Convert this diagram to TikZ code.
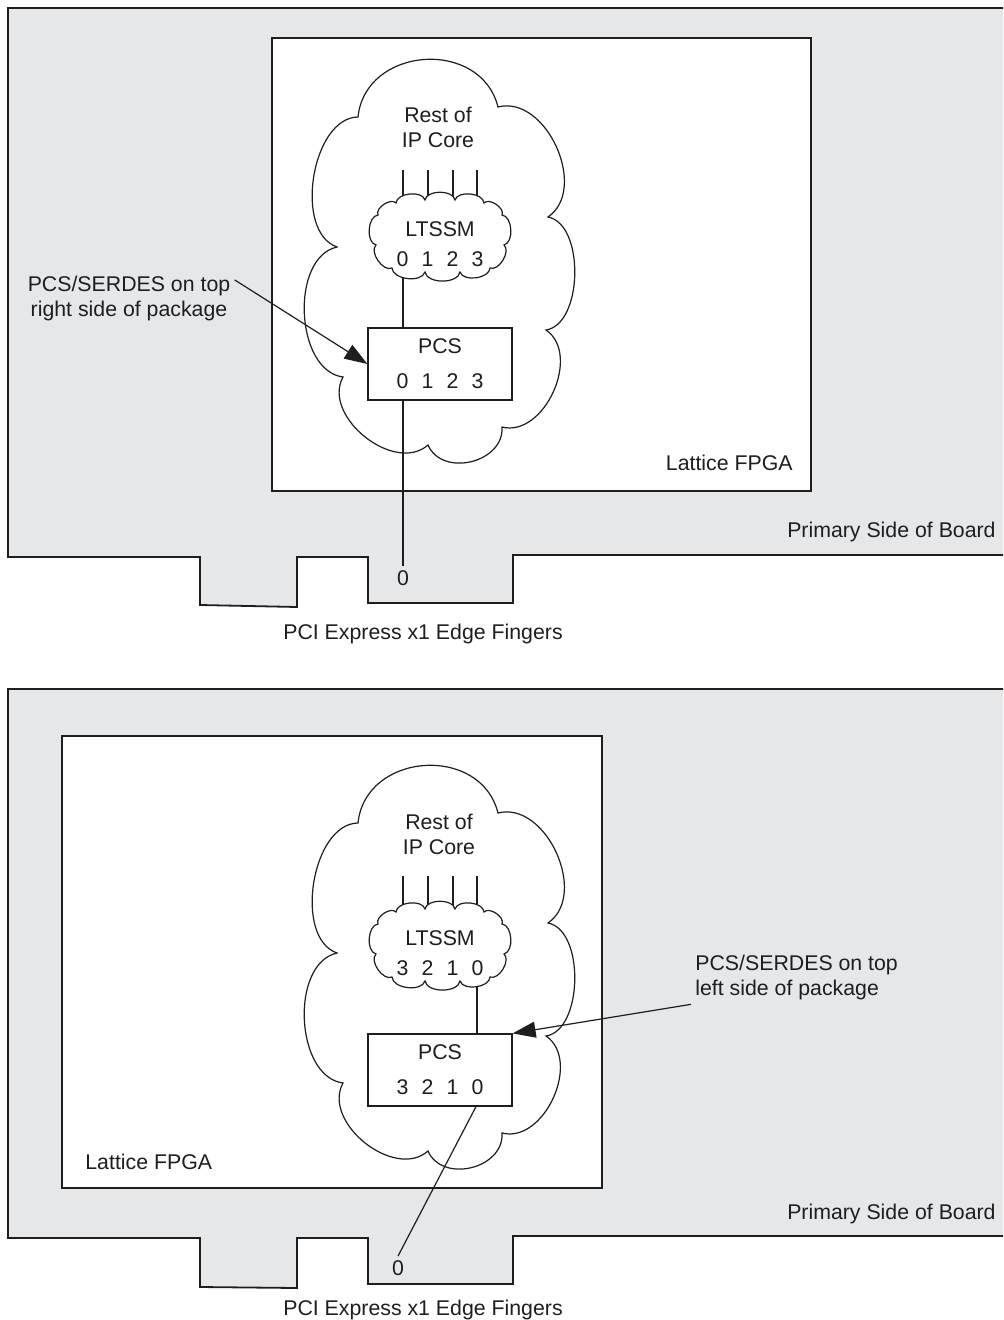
\documentclass[tikz,border=0pt]{standalone}
\usepackage{fontspec}
\setmainfont{Liberation Sans}
\usetikzlibrary{arrows.meta}
\definecolor{boardgray}{RGB}{230,231,233}
\definecolor{ink}{RGB}{30,30,30}
\newcommand\lanes[4]{#1\hspace{6.6pt}#2\hspace{6.6pt}#3\hspace{6.6pt}#4}

\begin{document}
\begin{tikzpicture}[x=0.5pt,y=-0.5pt,>={Triangle[length=11.5pt,width=8pt]},
  every node/.style={font=\fontsize{10.65pt}{12.5pt}\selectfont,text=ink,inner sep=2pt},
  wire/.style={draw=ink,line width=0.6pt},
  board/.style={draw=ink,line width=0.9pt,fill=boardgray},
  chip/.style={draw=ink,line width=0.7pt,fill=white},
  puff/.style={bend left=80},
  pcs/.style={draw=ink,line width=0.6pt,fill=white,minimum width=72pt,minimum height=36pt,inner sep=0pt,align=center}]
  \clip (0,0) rectangle (1003,1320);
  \draw[board] (8,8)--(1012,8)--(1012,555)--(513,555)--(513,603)--(368,603)--(368,557)--(297,557)--(297,607)--(200,605)--(200,557)--(8,557)--cycle;
  \draw[board] (8,689)--(1012,689)--(1012,1236)--(513,1236)--(513,1284)--(368,1284)--(368,1238)--(297,1238)--(297,1288)--(200,1287)--(200,1238)--(8,1238)--cycle;
  \draw[chip] (272,38) rectangle (811,491);
  \draw[chip] (62,736) rectangle (602,1188);
  \foreach \dy in {0,706}
    \draw[wire,shift={(0,\dy)}] (358,117) to[puff,looseness=1.3] (498,107) to[puff,looseness=1.05] (548,217)
      to[puff,looseness=0.85] (546,330) to[puff,looseness=1.05] (502,427) to[puff,looseness=1.2] (428,445)
      to[puff,looseness=1.05] (343,377) to[puff,looseness=0.95] (337,247) to[puff,looseness=0.9] (358,117) -- cycle;

  \node[align=center] (restA) at (438,127.5) {Rest of\\IP Core};
  \node[pcs] (pcsA) at (440,364) {PCS\\[5pt]\lanes0123};
  \foreach \x in {403,428,453,477} \draw[wire] (\x,170) -- (\x,235);
  \draw[wire] ([xshift=-18.5pt]pcsA.north) -- ++(0,-100);
  \node (zeroA) at (403,578) {0};
  \draw[wire] ([xshift=-18.5pt]pcsA.south) -- (zeroA.north);
  \node[align=center] (noteA) at (129,298.5) {PCS/SERDES on top\\right side of package};
  \draw[wire,->] (noteA.10) -- (pcsA.west);
  \node[anchor=east] (fpgaA) at (797,463) {Lattice FPGA};
  \node[anchor=east] (sideA) at (1000,532) {Primary Side of Board};
  \node (fingA) at (423,634) {PCI Express x1 Edge Fingers};

  \node[align=center] (restB) at (439,834.5) {Rest of\\IP Core};
  \node[pcs] (pcsB) at (440,1070) {PCS\\[5pt]\lanes3210};
  \foreach \x in {403,428,453,477} \draw[wire] (\x,876) -- (\x,944);
  \draw[wire] ([xshift=18.5pt]pcsB.north) -- ++(0,-100);
  \node (zeroB) at (398,1268) {0};
  \draw[wire] ([xshift=18pt]pcsB.south) -- (zeroB.north);
  \node[anchor=west,align=left] (noteB) at (691,977.5) {PCS/SERDES on top\\left side of package};
  \draw[wire,->] (noteB.south west) -- (pcsB.north east);
  \node[anchor=west] (fpgaB) at (81,1162) {Lattice FPGA};
  \node[anchor=east] (sideB) at (1000,1214) {Primary Side of Board};
  \node (fingB) at (423,1310) {PCI Express x1 Edge Fingers};

  \foreach \dy in {0,709}
    \draw[wire,fill=white,shift={(0,\dy)}] (378,215)
      \foreach \px/\py in {396/203,425/200,455/200,484/203,502/215,504/245,490/268,460/272,425/272,392/268,376/245,378/215}
        { to[puff,looseness=0.9] (\px,\py) } -- cycle;
  \node[align=center] (ltssmA) at (440,244) {LTSSM\\[2.5pt]\lanes0123};
  \node[align=center] (ltssmB) at (440,953) {LTSSM\\[2.5pt]\lanes3210};
\end{tikzpicture}
\end{document}
